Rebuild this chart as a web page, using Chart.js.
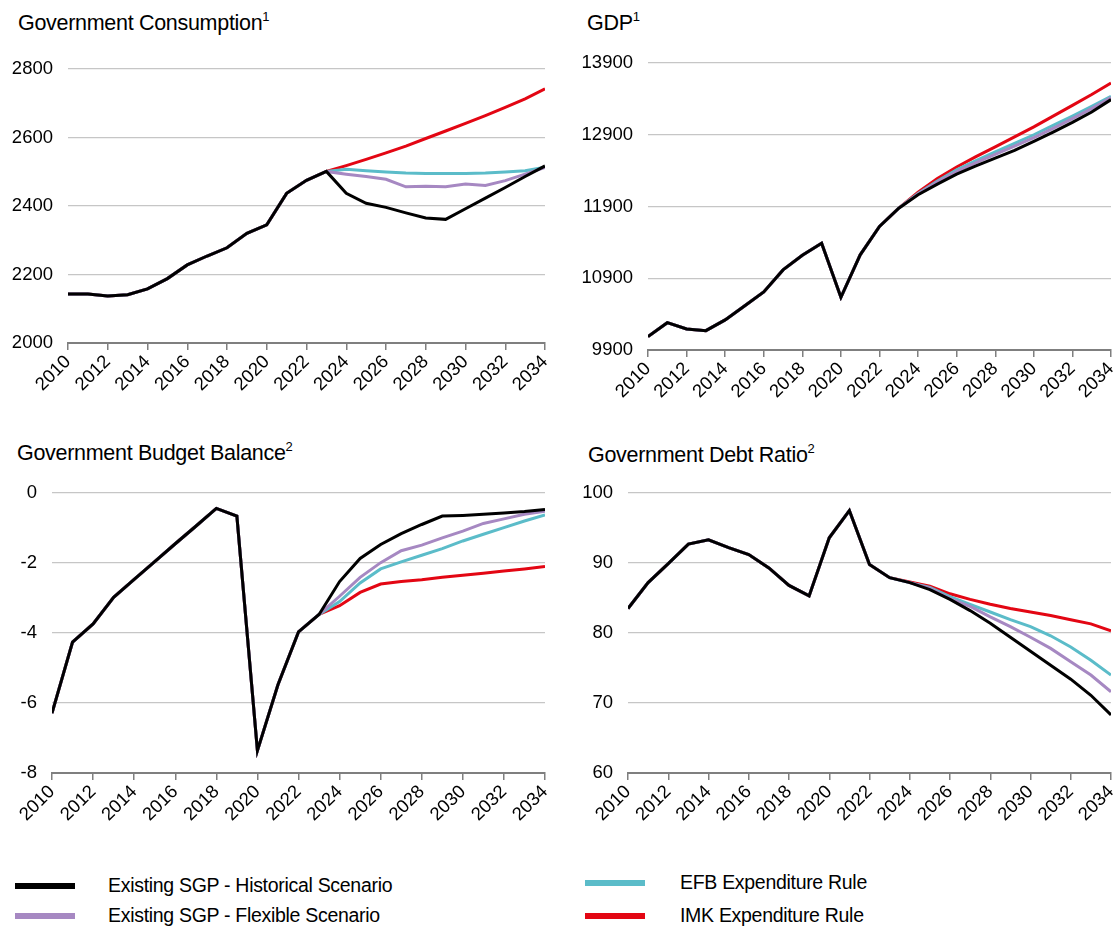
<!DOCTYPE html>
<html>
<head>
<meta charset="utf-8">
<script src="https://cdn.jsdelivr.net/npm/chart.js@4.4.1/dist/chart.umd.min.js"></script>
<style>
  html, body { margin: 0; padding: 0; background: #fff; }
  body { width: 1116px; height: 928px; position: relative; overflow: hidden; font-family: "Liberation Sans", Arial, sans-serif; color: #000; }
  .box { position: absolute; }
  .title { position: absolute; font-size: 21.5px; white-space: nowrap; color: #000; letter-spacing: -0.3px; }
  .title sup { font-size: 13px; vertical-align: 0; position: relative; top: -9px; color: #000; }
  .leg-line { position: absolute; height: 6px; width: 60px; }
  .leg-text { position: absolute; font-size: 19.5px; white-space: nowrap; letter-spacing: -0.3px; color: #000; }
</style>
</head>
<body>
<div class="title" style="left:18px; top:11px;">Government Consumption<sup>1</sup></div>
<div class="title" style="left:587px; top:11px;">GDP<sup>1</sup></div>
<div class="title" style="left:17px; top:441px;">Government Budget Balance<sup>2</sup></div>
<div class="title" style="left:588px; top:443px;">Government Debt Ratio<sup>2</sup></div>

<div class="box" id="b1"><canvas id="c1"></canvas></div>
<div class="box" id="b2"><canvas id="c2"></canvas></div>
<div class="box" id="b3"><canvas id="c3"></canvas></div>
<div class="box" id="b4"><canvas id="c4"></canvas></div>

<div id="legend"></div>

<script>
// ---------- DATA ----------
const years = [2010, 2011, 2012, 2013, 2014, 2015, 2016, 2017, 2018, 2019, 2020, 2021, 2022,
               2023, 2024, 2025, 2026, 2027, 2028, 2029, 2030, 2031, 2032, 2033, 2034];

const seriesNames = ["Existing SGP - Historical Scenario", "Existing SGP - Flexible Scenario",
                     "EFB Expenditure Rule", "IMK Expenditure Rule"];
const seriesColors = ["#000000", "#a688c2", "#5bbcc9", "#e30613"];

// Government Consumption: history 2010-2023, projections 2024-2034
const consHist    = [2143, 2143, 2137, 2141, 2158, 2188, 2228, 2254, 2278, 2320, 2345, 2437, 2475, 2501];
const consSgpHist = [2437, 2408, 2396, 2380, 2365, 2361, 2392, 2423, 2454, 2486, 2517];
const consSgpFlex = [2493, 2486, 2478, 2456, 2458, 2456, 2464, 2460, 2474, 2493, 2513];
const consEfb     = [2507, 2503, 2499, 2496, 2495, 2495, 2495, 2496, 2499, 2503, 2513];
const consImk     = [2518, 2536, 2555, 2575, 2597, 2619, 2641, 2664, 2688, 2713, 2742];

// GDP
const gdpHist    = [10086, 10281, 10193, 10170, 10319, 10514, 10709, 11016, 11221, 11388, 10635, 11226, 11621, 11877];
const gdpSgpHist = [12063, 12212, 12351, 12467, 12574, 12681, 12807, 12937, 13072, 13216, 13390];
const gdpSgpFlex = [12075, 12240, 12385, 12510, 12625, 12740, 12860, 12990, 13125, 13265, 13420];
const gdpEfb     = [12080, 12255, 12410, 12540, 12660, 12780, 12900, 13030, 13160, 13295, 13435];
const gdpImk     = [12100, 12290, 12450, 12595, 12730, 12870, 13010, 13160, 13310, 13460, 13620];

// Government Budget Balance
const balHist    = [-6.29, -4.26, -3.74, -2.98, -2.47, -1.96, -1.45, -0.95, -0.44, -0.66, -7.36, -5.48, -3.97, -3.47];
const balSgpHist = [-2.53, -1.87, -1.47, -1.16, -0.90, -0.66, -0.64, -0.61, -0.57, -0.53, -0.47];
const balSgpFlex = [-2.95, -2.41, -1.99, -1.65, -1.49, -1.28, -1.09, -0.87, -0.74, -0.61, -0.52];
const balEfb     = [-3.10, -2.57, -2.17, -1.97, -1.78, -1.59, -1.37, -1.18, -0.99, -0.80, -0.63];
const balImk     = [-3.22, -2.84, -2.60, -2.53, -2.48, -2.41, -2.35, -2.29, -2.23, -2.17, -2.10];

// Government Debt Ratio
const debtHist    = [83.5, 87.2, 89.9, 92.7, 93.3, 92.2, 91.2, 89.3, 86.8, 85.3, 93.6, 97.5, 89.8, 87.9];
const debtSgpHist = [87.2, 86.2, 84.8, 83.2, 81.4, 79.4, 77.4, 75.4, 73.4, 71.1, 68.3];
const debtSgpFlex = [87.2, 86.4, 84.9, 83.8, 82.3, 80.9, 79.4, 77.8, 75.9, 74.0, 71.6];
const debtEfb     = [87.2, 86.5, 85.2, 84.1, 83.0, 81.9, 80.9, 79.6, 78.0, 76.1, 74.0];
const debtImk     = [87.3, 86.7, 85.6, 84.8, 84.1, 83.5, 83.0, 82.5, 81.9, 81.3, 80.3];

// Axis ranges
const consAxis = [2000, 2800, 200];
const gdpAxis  = [9900, 13900, 1000];
const balAxis  = [-8, 0, 2];
const debtAxis = [60, 100, 10];

// ---------- DRAWING ----------
const FONT = "'Liberation Sans', Arial, sans-serif";
Chart.defaults.font.family = FONT;
Chart.defaults.color = "#000";

function makeChart(n, box, area, axis, hist, projections) {
  const holder = document.getElementById("b" + n);
  holder.style.left = box.x + "px"; holder.style.top = box.y + "px";
  holder.style.width = box.w + "px"; holder.style.height = box.h + "px";
  const cv = document.getElementById("c" + n);
  cv.width = box.w; cv.height = box.h;
  cv.style.width = box.w + "px"; cv.style.height = box.h + "px";

  const datasets = projections.map((proj, i) => ({
    label: seriesNames[i],
    data: hist.concat(proj).map((v, k) => ({ x: years[k], y: v })),
    borderColor: seriesColors[i],
    backgroundColor: seriesColors[i],
    borderWidth: 3,
    pointRadius: 0,
    tension: 0,
    fill: false
  }));

  new Chart(cv, {
    type: "line",
    data: { datasets },
    options: {
      responsive: false,
      animation: false,
      devicePixelRatio: 1,
      layout: { padding: { top: area.top - box.y, right: box.x + box.w - area.right, left: 0, bottom: 0 } },
      plugins: { legend: { display: false }, tooltip: { enabled: false } },
      scales: {
        x: {
          type: "linear",
          min: years[0], max: years[years.length - 1],
          ticks: {
            stepSize: 2, minRotation: 45, maxRotation: 45, autoSkip: false,
            font: { size: 18.5 }, color: "#000", padding: 1,
            callback: v => String(v)
          },
          grid: { drawOnChartArea: false, drawTicks: true, tickLength: 7, color: "#7f7f7f", lineWidth: 1.5 },
          border: { display: true, color: "#7f7f7f", width: 2 },
          afterFit: s => { s.height = box.y + box.h - area.bottom; s.paddingLeft = 0; s.paddingRight = 0; }
        },
        y: {
          min: axis[0], max: axis[1],
          ticks: { stepSize: axis[2], font: { size: 18.5 }, color: "#000", padding: 15, callback: v => String(v) },
          grid: { color: "#c6c6c6", lineWidth: 1.2, drawTicks: false },
          border: { display: false },
          afterFit: s => { s.width = area.left - box.x; s.paddingTop = 0; s.paddingBottom = 0; }
        }
      }
    }
  });
}

makeChart(1, { x: 0, y: 40, w: 556, h: 370 }, { left: 68, right: 545, top: 69, bottom: 343 },
  consAxis, consHist, [consSgpHist, consSgpFlex, consEfb, consImk]);
makeChart(2, { x: 556, y: 40, w: 560, h: 370 }, { left: 648, right: 1111, top: 63, bottom: 350 },
  gdpAxis, gdpHist, [gdpSgpHist, gdpSgpFlex, gdpEfb, gdpImk]);
makeChart(3, { x: 0, y: 470, w: 556, h: 370 }, { left: 52, right: 545, top: 493, bottom: 773 },
  balAxis, balHist, [balSgpHist, balSgpFlex, balEfb, balImk]);
makeChart(4, { x: 556, y: 470, w: 560, h: 370 }, { left: 628, right: 1111, top: 493, bottom: 773 },
  debtAxis, debtHist, [debtSgpHist, debtSgpFlex, debtEfb, debtImk]);

// HTML legend
const legendPos = [ { lx: 15, tx: 108, y: 886 }, { lx: 15, tx: 108, y: 916 },
                    { lx: 585, tx: 680, y: 883 }, { lx: 585, tx: 680, y: 916 } ];
const leg = document.getElementById("legend");
seriesNames.forEach((name, i) => {
  const p = legendPos[i];
  const line = document.createElement("div");
  line.className = "leg-line";
  line.style.left = p.lx + "px"; line.style.top = (p.y - 3) + "px";
  line.style.background = seriesColors[i];
  leg.appendChild(line);
  const t = document.createElement("div");
  t.className = "leg-text";
  t.style.left = p.tx + "px"; t.style.top = (p.y - 12) + "px";
  t.textContent = name;
  leg.appendChild(t);
});
</script>
</body>
</html>
